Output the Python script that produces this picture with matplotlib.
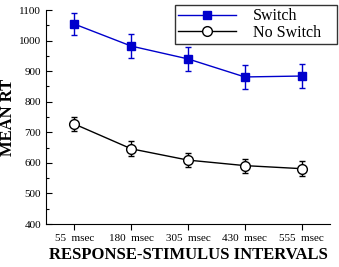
import numpy as np
import matplotlib
matplotlib.use('Agg')
import matplotlib.pyplot as plt
from matplotlib.ticker import MultipleLocator
from matplotlib.lines import Line2D

plt.rcParams['font.family'] = ['Liberation Serif', 'DejaVu Serif']

intervals = ['55  msec', '180  msec', '305  msec', '430  msec', '555  msec']
switch_rt = [1054, 982, 940, 881, 884]
switch_err = [37, 39, 39, 39, 40]
noswitch_rt = [727, 646, 609, 591, 581]
noswitch_err = [24, 24, 22, 23, 25]

blue = '#0000cc'
x = np.arange(len(intervals))

fig = plt.figure(figsize=(3.39, 2.67), dpi=100)
ax = fig.add_axes([46 / 339, 1 - 224 / 267, 284 / 339, 214 / 267])

ax.errorbar(x, switch_rt, yerr=switch_err, color=blue, marker='s', markersize=6,
            linewidth=1, elinewidth=1, capsize=2.5, zorder=3)
ax.errorbar(x, noswitch_rt, yerr=noswitch_err, color='black', marker='o', markersize=7,
            markerfacecolor='white', linewidth=1, elinewidth=1, capsize=2.5, zorder=3)

ax.set_xlim(-0.5, 4.5)
ax.set_ylim(400, 1100)
ax.set_xticks(x)
ax.set_xticklabels(intervals, fontsize=8)
ax.yaxis.set_major_locator(MultipleLocator(100))
ax.yaxis.set_minor_locator(MultipleLocator(50))
ax.tick_params(axis='y', direction='in', labelsize=8, length=4, width=0.8)
ax.tick_params(axis='y', which='minor', direction='in', length=2.5, width=0.8)
ax.tick_params(axis='x', direction='out', length=4, width=0.8, pad=3)
ax.spines['top'].set_visible(False)
ax.spines['right'].set_visible(False)

ax.set_xlabel('RESPONSE-STIMULUS INTERVALS', fontsize=12, fontweight='bold', labelpad=3)
ax.set_ylabel('MEAN RT', fontsize=12, fontweight='bold')
ax.yaxis.set_label_coords(-30 / 284, 0.5)

handles = [Line2D([], [], color=blue, marker='s', markersize=6, linewidth=1),
           Line2D([], [], color='black', marker='o', markersize=7,
                  markerfacecolor='white', linewidth=1)]
leg = ax.legend(handles, ['Switch', 'No Switch'], loc='upper left', mode='expand',
                bbox_to_anchor=(175 / 339, 1 - 45 / 267, 162 / 339, 40 / 267),
                bbox_transform=fig.transFigure, fontsize=11.5, frameon=True,
                fancybox=False, edgecolor='black', handlelength=3.6,
                borderpad=0.2, labelspacing=0.05, handletextpad=1.1,
                borderaxespad=0)
leg.get_frame().set_linewidth(1)
leg.set_zorder(5)

fig.savefig('out.png', dpi=100)
